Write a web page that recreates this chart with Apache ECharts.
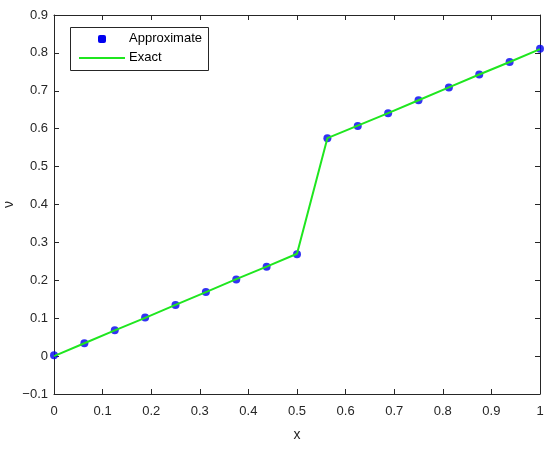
<!DOCTYPE html>
<html><head><meta charset="utf-8">
<script src="https://cdn.jsdelivr.net/npm/echarts@6/dist/echarts.min.js"></script>
<style>html,body{margin:0;padding:0;background:#fff}#c{width:550px;height:449px}</style>
</head><body><div id="c"></div>
<script>
var xValues = [0, 0.0625, 0.125, 0.1875, 0.25, 0.3125, 0.375, 0.4375, 0.5, 0.5625, 0.625, 0.6875, 0.75, 0.8125, 0.875, 0.9375, 1];
var approximate = [0.002, 0.034, 0.068, 0.102, 0.135, 0.169, 0.202, 0.236, 0.269, 0.575, 0.607, 0.641, 0.675, 0.709, 0.743, 0.776, 0.811];
var exact = [0, 0.034, 0.068, 0.101, 0.135, 0.169, 0.203, 0.236, 0.27, 0.575, 0.608, 0.641, 0.675, 0.709, 0.743, 0.776, 0.81];
var seriesNames = ['Approximate', 'Exact'];

var chart = echarts.init(document.getElementById('c'), null, {renderer: 'canvas'});
var fmt = function (v) { var r = Math.round(v * 10) / 10; return r < 0 ? '\u2212' + Math.abs(r) : String(r); };
var axisCol = '#262626';
var font = 'Liberation Sans, Arial, sans-serif';
var baseAxis = {
  type: 'value', min: 0, max: 1, interval: 0.1,
  axisLine: {show: true, onZero: false, lineStyle: {color: axisCol, width: 1}},
  axisTick: {show: true, inside: true, length: 5, lineStyle: {color: axisCol}},
  splitLine: {show: false}
};
var option = {
  animation: false,
  backgroundColor: '#fff',
  grid: {left: 54, right: 10, top: 15, bottom: 55, containLabel: false, outerBoundsMode: 'none'},
  xAxis: [
    Object.assign({}, baseAxis, {
      position: 'bottom', name: 'x', nameLocation: 'middle', nameGap: 34, nameMoveOverlap: false,
      nameTextStyle: {color: axisCol, fontSize: 14, fontFamily: font},
      axisLabel: {color: axisCol, fontSize: 13, fontFamily: font, margin: 11, formatter: fmt}
    }),
    Object.assign({}, baseAxis, {position: 'top', axisLabel: {show: false}})
  ],
  yAxis: [
    Object.assign({}, baseAxis, {
      min: -0.1, max: 0.9, position: 'left', name: '\u03bd', nameLocation: 'middle', nameGap: 38, nameMoveOverlap: false,
      nameTextStyle: {color: axisCol, fontSize: 14, fontFamily: font},
      axisLabel: {color: axisCol, fontSize: 13, fontFamily: font, margin: 6, formatter: fmt}
    }),
    Object.assign({}, baseAxis, {min: -0.1, max: 0.9, position: 'right', axisLabel: {show: false}})
  ],
  series: [
    {
      name: seriesNames[0], type: 'scatter', xAxisIndex: 0, yAxisIndex: 0,
      symbol: 'circle', symbolSize: 8, z: 2,
      itemStyle: {color: '#0000f0'},
      data: xValues.map(function (x, i) { return [x, approximate[i]]; })
    },
    {
      name: seriesNames[1], type: 'line', xAxisIndex: 0, yAxisIndex: 0,
      showSymbol: false, symbol: 'none', z: 3,
      lineStyle: {color: '#1fe61f', width: 2},
      data: xValues.map(function (x, i) { return [x, exact[i]]; })
    }
  ],
  graphic: [
    {type: 'rect', shape: {x: 70.5, y: 27.5, width: 138, height: 43}, style: {fill: '#fff', stroke: axisCol, lineWidth: 1}, z: 10},
    {type: 'rect', shape: {x: 98, y: 35, width: 8, height: 8, r: 2}, style: {fill: '#0000f0'}, z: 11},
    {type: 'line', shape: {x1: 79, y1: 58, x2: 125, y2: 58}, style: {stroke: '#1fe61f', lineWidth: 2}, z: 11},
    {type: 'text', left: 129, top: 32, style: {text: seriesNames[0], fill: '#000', font: '13px ' + font}, z: 11},
    {type: 'text', left: 129, top: 51, style: {text: seriesNames[1], fill: '#000', font: '13px ' + font}, z: 11}
  ]
};
chart.setOption(option);
</script></body></html>
